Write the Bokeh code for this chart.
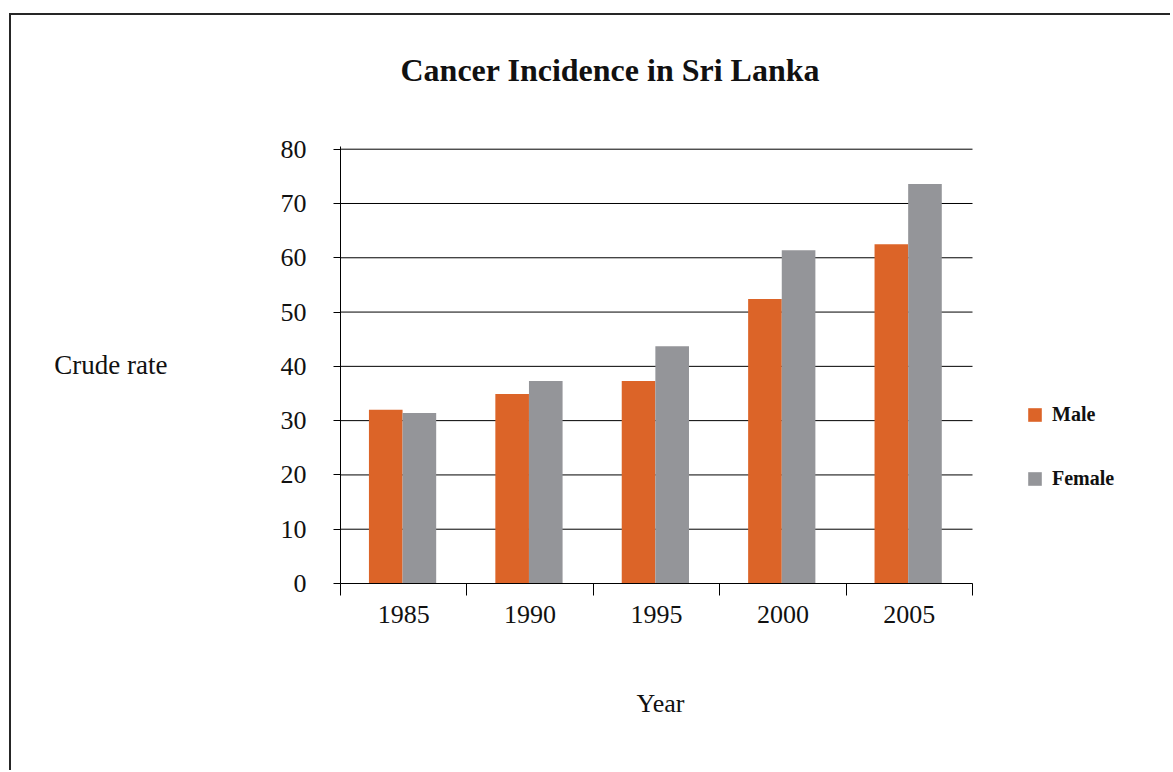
from bokeh.plotting import figure
from bokeh.models import Range1d, FixedTicker, Legend, LegendItem, Title
from bokeh.transform import dodge
from bokeh.models import ColumnDataSource
from bokeh.embed import file_html
from bokeh.resources import INLINE
import numpy as np

# ---- data ----
years = ["1985", "1990", "1995", "2000", "2005"]
male = [32.0, 34.9, 37.3, 52.4, 62.5]
female = [31.4, 37.3, 43.7, 61.4, 73.6]
y_ticks = [0, 10, 20, 30, 40, 50, 60, 70, 80]

MALE_COLOR = "#DC6428"
FEMALE_COLOR = "#949599"
FONT = "Liberation Serif"

W, H = 1170, 770
PLOT_L, PLOT_R = 340, 972  # page x of the category axis ends
FRAME_R = 1161             # frame extended right to host the legend
Y0, YTOP = 583, 146        # page y of value 0 and of frame top
n = len(years)
x_end = n * (FRAME_R - PLOT_L) / (PLOT_R - PLOT_L)
y_end = 80 * (Y0 - YTOP) / (Y0 - 148.7)

pos = np.arange(n) + 0.5
src = ColumnDataSource(dict(x=pos, male=male, female=female, year=years))

p = figure(width=W, height=H, output_backend="svg", toolbar_location=None,
           x_range=Range1d(0, x_end), y_range=Range1d(0, y_end),
           min_border_left=PLOT_L, min_border_right=W - FRAME_R,
           min_border_top=YTOP, min_border_bottom=H - Y0)
# outer chart-area frame (top and left edges visible in the window)
p.styles = {
    "background-image": "linear-gradient(#262626,#262626), linear-gradient(#262626,#262626)",
    "background-size": "calc(100% - 9px) 2px, 2px calc(100% - 13px)",
    "background-position": "9px 13px, 9px 13px",
    "background-repeat": "no-repeat",
}
p.outline_line_color = None
p.background_fill_color = None
p.border_fill_color = None

# spacer between frame and title, then the title
p.add_layout(Title(text=" ", text_font_size="1px", standoff=56), "above")
p.add_layout(Title(text="Cancer Incidence in Sri Lanka", align="left", offset=60,
                   text_font=FONT, text_font_size="32px", text_font_style="bold",
                   text_color="#111111", standoff=0), "above")

# horizontal grid lines limited to the category span
p.segment(x0=[0] * len(y_ticks), x1=[n] * len(y_ticks), y0=y_ticks, y1=y_ticks,
          line_color="black", line_width=1)

bw = 0.266
rm = p.vbar(x=dodge("x", -0.142, range=p.x_range), top="male", width=bw, source=src,
            fill_color=MALE_COLOR, line_color=None)
rf = p.vbar(x=dodge("x", 0.124, range=p.x_range), top="female", width=bw, source=src,
            fill_color=FEMALE_COLOR, line_color=None)

# x axis
xa = p.xaxis[0]
xa.bounds = (0, n)
xa.ticker = FixedTicker(ticks=list(pos), minor_ticks=list(range(n + 1)))
xa.major_label_overrides = {float(v): y for v, y in zip(pos, years)}
xa.major_tick_out = 0
xa.major_tick_in = 0
xa.minor_tick_out = 12
xa.minor_tick_in = 0
xa.minor_tick_line_color = "black"
xa.axis_line_color = "black"
xa.major_label_text_font = FONT
xa.major_label_text_font_size = "26px"
xa.major_label_text_color = "#111111"
xa.major_label_standoff = 10

# x axis title: spacer below the axis, then the title over the category span
p.add_layout(Title(text=" ", text_font_size="1px", standoff=58), "below")
p.add_layout(Title(text="Year", align="left", offset=296,
                   text_font=FONT, text_font_size="26px", text_font_style="normal",
                   text_color="#111111", standoff=0), "below")

# y axis
ya = p.yaxis[0]
ya.ticker = FixedTicker(ticks=y_ticks)
ya.major_tick_out = 7
ya.major_tick_in = 0
ya.minor_tick_line_color = None
ya.axis_line_color = "black"
ya.major_label_text_font = FONT
ya.major_label_text_font_size = "26px"
ya.major_label_text_color = "#111111"
ya.major_label_standoff = 27
ya.axis_label = "Crude rate"
ya.axis_label_orientation = "horizontal"
ya.axis_label_text_font = FONT
ya.axis_label_text_font_size = "27px"
ya.axis_label_text_font_style = "normal"
ya.axis_label_text_color = "#111111"
ya.axis_label_standoff = 110

p.xgrid.grid_line_color = None
p.ygrid.grid_line_color = None

# legend
item_h = 24
lg = Legend(items=[LegendItem(label="Male", renderers=[rm]),
                   LegendItem(label="Female", renderers=[rf])],
            location=(1026 - PLOT_L, Y0 - (478.0 + item_h / 2)),
            orientation="vertical",
            glyph_width=17, glyph_height=17, label_height=item_h,
            label_standoff=9, padding=0, margin=0, spacing=40,
            border_line_color=None, background_fill_alpha=0,
            label_text_font=FONT, label_text_font_size="20px",
            label_text_font_style="bold", label_text_color="#111111")
p.add_layout(lg, "center")

open("out.html", "w").write(file_html(p, INLINE))
